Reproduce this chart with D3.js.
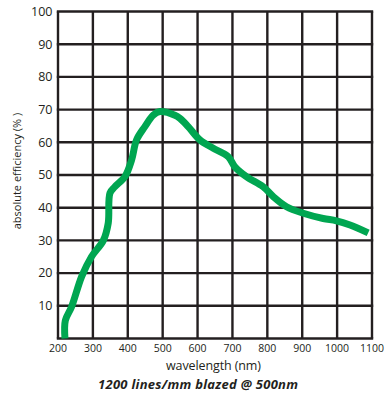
<!DOCTYPE html>
<html>
<head>
<meta charset="utf-8">
<script src="https://cdn.jsdelivr.net/npm/d3@7"></script>
<style>
  html, body { margin: 0; padding: 0; background: #fff; }
  svg { display: block; }
  text { font-family: "Open Sans", "Noto Sans", sans-serif; fill: #231f20; }
</style>
</head>
<body>
<svg id="chart" width="389" height="398"></svg>
<script>
// Grating efficiency curve: wavelength (nm) vs absolute efficiency (%)
const wavelength = [220, 221, 239, 268, 296, 330, 344, 349, 363, 392, 411, 425, 449, 473, 492,
                    535, 550, 573, 607, 645, 688, 707, 740, 788, 817, 855, 903, 960, 998, 1037, 1089];
const efficiency = [0, 5.5, 9.7, 19, 25, 30, 35.3, 44.5, 46.4, 49.5, 54.6, 60.7, 64.8, 68.3, 69.4,
                    68.3, 67.3, 64.8, 60.7, 58.2, 55.6, 52.5, 49.5, 46.4, 43.4, 40.3, 38.3, 36.7, 36, 34.7, 32.3];
const xTicks = [200, 300, 400, 500, 600, 700, 800, 900, 1000, 1100];
const yTicks = [0, 10, 20, 30, 40, 50, 60, 70, 80, 90, 100];
const yLabels = [10, 20, 30, 40, 50, 60, 70, 80, 90, 100];

const svg = d3.select("#chart");
const x = d3.scaleLinear().domain([200, 1100]).range([58, 372]);
const y = d3.scaleLinear().domain([0, 100]).range([338.5, 11.5]);
const ink = "#231f20";

// grid
const grid = svg.append("g");
grid.selectAll("line.v").data(xTicks).join("line")
  .attr("x1", d => x(d)).attr("x2", d => x(d))
  .attr("y1", y(0)).attr("y2", y(100))
  .attr("stroke", ink).attr("stroke-width", 2.4);
grid.selectAll("line.h").data(yTicks).join("line")
  .attr("x1", x(200) - 1.2).attr("x2", x(1100) + 1.2)
  .attr("y1", d => y(d)).attr("y2", d => y(d))
  .attr("stroke", ink).attr("stroke-width", 2.4);

// axis labels
svg.append("g").selectAll("text").data(yLabels).join("text")
  .attr("x", 52.5).attr("y", d => y(d) + 4.3)
  .attr("text-anchor", "end").attr("font-size", 12.5)
  .text(d => d);
svg.append("g").selectAll("text").data(xTicks).join("text")
  .attr("x", d => x(d)).attr("y", 351.5)
  .attr("text-anchor", "middle").attr("font-size", 10.5)
  .text(d => d);

svg.append("text")
  .attr("x", 166).attr("y", 370)
  .attr("font-size", 12.5)
  .attr("textLength", 95).attr("lengthAdjust", "spacing")
  .text("wavelength (nm)");
svg.append("text")
  .attr("transform", "translate(20.5,171) rotate(-90)")
  .attr("text-anchor", "middle").attr("font-size", 11)
  .text("absolute efficiency (% )");
svg.append("text")
  .attr("x", 98).attr("y", 389)
  .attr("font-size", 13)
  .attr("font-weight", "bold").attr("font-style", "italic")
  .attr("textLength", 200).attr("lengthAdjust", "spacing")
  .text("1200 lines/mm blazed @ 500nm");

// efficiency curve
const pts = wavelength.map((w, i) => [w, efficiency[i]]);
const line = d3.line().x(d => x(d[0])).y(d => y(d[1])).curve(d3.curveCatmullRom.alpha(0.5));
svg.append("path")
  .attr("d", line(pts))
  .attr("fill", "none")
  .attr("stroke", "#00a651")
  .attr("stroke-width", 7)
  .attr("stroke-linejoin", "round");
</script>
</body>
</html>
